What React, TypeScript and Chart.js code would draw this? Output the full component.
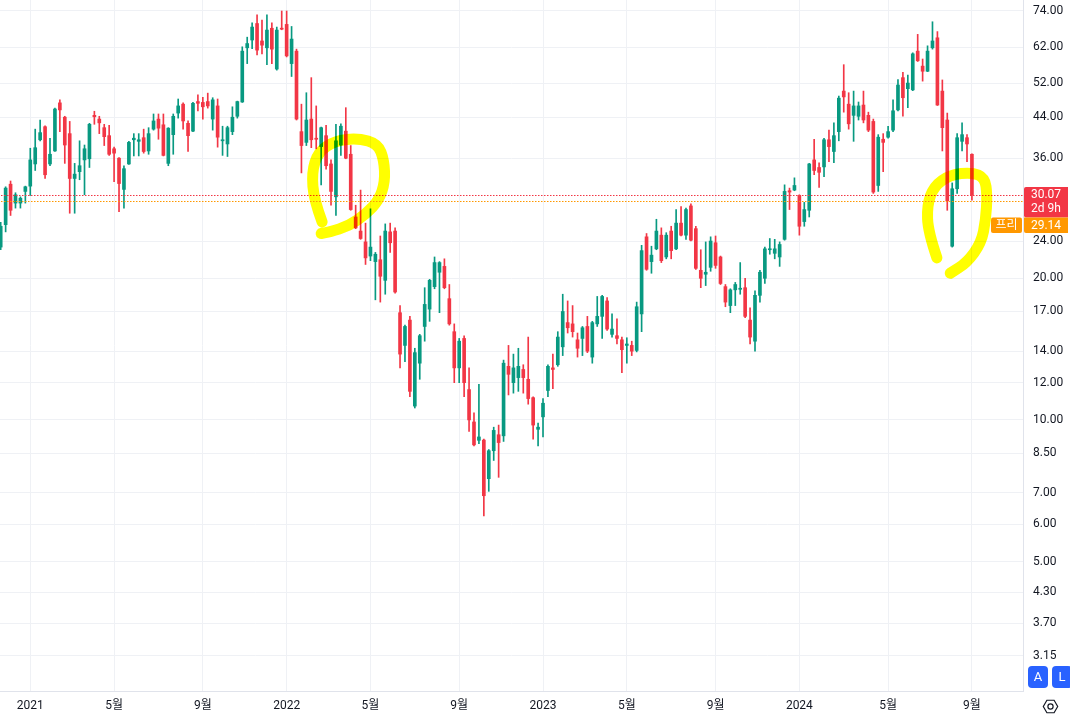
import React, { useEffect, useRef } from 'react';
import { Chart, registerables } from 'chart.js';

Chart.register(...registerables);

// Weekly candles, week of 2020-11-23 (index 0) through week of 2024-09-02 (index 197)
const opens = [
  23.3, 26.0, 31.7, 28.9, 28.9, 30.6, 31.4, 35.0, 39.4, 42.0, 35.0, 37.3, 47.2, 44.0, 40.6, 32.6, 33.7, 35.7, 35.9, 44.4,
  43.6, 41.8, 40.2, 37.7, 36.0, 30.9, 35.0, 39.4, 39.1, 39.8, 37.3, 41.5, 43.6, 42.4, 35.1, 40.4, 44.9, 46.9, 42.7, 41.1,
  47.5, 47.3, 47.5, 43.6, 46.5, 39.2, 38.6, 41.0, 44.2, 47.4, 61.8, 64.2, 69.6, 63.9, 61.8, 68.0, 55.7, 68.0, 69.3, 57.2,
  60.8, 41.0, 38.9, 43.6, 39.7, 38.1, 40.2, 35.0, 29.8, 38.4, 41.1, 36.7, 27.0, 25.2, 23.9, 22.3, 21.7, 21.9, 19.8, 25.1,
  25.2, 16.9, 14.4, 16.3, 10.7, 13.2, 15.8, 17.2, 19.2, 20.6, 21.2, 18.1, 15.4, 12.9, 14.9, 11.6, 9.9, 9.05, 9.06, 7.5,
  8.6, 9.3, 9.25, 13.0, 12.0, 12.3, 12.8, 12.2, 11.15, 9.55, 10.15, 11.55, 12.9, 13.1, 14.3, 16.1, 16.0, 14.8, 14.9, 15.8,
  13.6, 16.0, 16.6, 17.9, 15.2, 15.1, 14.8, 14.4, 14.4, 14.05, 16.8, 24.5, 21.7, 23.1, 24.7, 22.2, 25.2, 23.1, 26.2, 24.7,
  28.5, 25.5, 20.8, 20.4, 21.1, 23.8, 22.2, 19.2, 17.5, 18.9, 18.95, 19.1, 16.3, 14.7, 18.4, 20.0, 23.0, 22.6, 22.2, 24.2,
  30.7, 30.8, 30.0, 26.4, 27.9, 35.7, 34.4, 34.5, 39.4, 37.2, 41.0, 50.0, 46.9, 44.4, 44.2, 46.7, 44.4, 43.1, 31.5, 39.5,
  39.9, 41.3, 45.6, 53.4, 50.6, 50.3, 60.8, 56.5, 55.1, 61.8, 64.9, 50.0, 43.4, 23.4, 31.0, 39.1, 39.8, 36.7,
];
const highs = [
  26.3, 31.3, 32.2, 30.4, 29.8, 31.4, 37.8, 41.5, 43.4, 42.2, 39.7, 46.0, 47.9, 44.2, 43.1, 35.1, 39.2, 38.4, 42.7, 45.3,
  44.2, 42.5, 42.3, 38.0, 36.1, 34.7, 39.1, 40.6, 40.6, 41.5, 41.8, 44.7, 44.7, 44.7, 41.8, 44.7, 48.1, 47.2, 43.2, 47.3,
  49.1, 48.5, 49.5, 48.4, 48.1, 42.1, 42.1, 46.3, 47.6, 62.1, 65.1, 69.8, 72.6, 70.8, 72.6, 69.8, 68.4, 74.0, 74.0, 68.6,
  61.4, 46.9, 49.6, 53.4, 46.5, 41.9, 42.3, 35.7, 42.5, 42.6, 46.1, 38.3, 28.6, 30.8, 26.2, 28.1, 22.7, 24.6, 26.1, 26.2,
  25.6, 17.5, 15.9, 16.6, 14.2, 15.2, 19.1, 19.9, 22.2, 21.7, 22.0, 19.4, 16.0, 14.9, 15.1, 12.9, 10.35, 11.9, 9.1, 8.65,
  9.65, 9.75, 13.4, 14.4, 13.8, 14.2, 13.1, 15.0, 11.2, 9.85, 11.1, 13.1, 13.8, 15.4, 18.5, 17.9, 17.5, 15.3, 15.8, 16.6,
  16.2, 18.3, 18.4, 18.2, 16.8, 16.4, 15.0, 14.95, 14.7, 17.8, 23.5, 24.9, 23.4, 26.7, 25.6, 25.0, 25.8, 28.0, 28.4, 28.2,
  28.8, 25.8, 23.0, 23.9, 24.5, 24.6, 22.3, 19.4, 19.0, 19.6, 21.6, 20.0, 17.3, 18.8, 20.8, 23.3, 24.3, 24.2, 23.9, 31.6,
  31.1, 32.7, 30.1, 29.0, 35.1, 39.5, 35.2, 39.7, 41.3, 42.8, 48.8, 56.9, 49.6, 50.0, 47.4, 50.0, 45.1, 43.6, 40.4, 40.6,
  42.1, 47.9, 52.9, 54.8, 54.1, 60.3, 66.0, 58.5, 62.4, 70.2, 66.9, 52.8, 44.9, 31.9, 40.6, 42.8, 40.4, 36.8,
];
const lows = [
  23.0, 25.1, 27.2, 28.2, 28.2, 28.9, 30.0, 33.9, 39.2, 32.6, 34.7, 37.2, 41.0, 35.1, 27.5, 27.5, 32.4, 30.1, 34.4, 42.5,
  40.6, 38.3, 36.5, 32.1, 27.7, 28.2, 34.9, 36.4, 36.4, 36.9, 36.7, 41.3, 39.5, 36.4, 34.7, 36.7, 43.8, 41.5, 37.2, 41.0,
  45.4, 43.6, 46.0, 41.3, 38.0, 36.5, 36.3, 40.4, 43.8, 47.3, 57.2, 61.5, 59.7, 60.0, 56.9, 57.2, 55.4, 67.5, 59.1, 53.7,
  43.4, 33.5, 38.3, 37.9, 37.7, 31.6, 34.1, 28.6, 27.2, 36.5, 35.9, 27.9, 25.5, 24.2, 21.4, 21.8, 18.0, 17.8, 18.5, 22.7,
  18.6, 12.9, 13.3, 11.2, 10.6, 12.2, 14.7, 16.2, 19.0, 16.9, 19.0, 15.9, 12.0, 12.0, 11.2, 9.45, 8.8, 8.9, 6.25, 7.05,
  8.2, 7.55, 9.0, 11.3, 11.4, 11.5, 11.4, 10.8, 9.1, 8.8, 9.2, 11.2, 11.65, 13.0, 13.7, 15.3, 15.0, 13.6, 13.7, 13.9,
  13.2, 15.8, 14.9, 15.5, 15.0, 14.5, 12.6, 13.2, 13.7, 13.95, 15.4, 20.8, 20.5, 23.0, 21.6, 22.0, 22.0, 23.0, 24.6, 24.2,
  24.0, 20.9, 19.1, 19.3, 20.7, 21.0, 19.4, 17.4, 16.9, 17.5, 18.5, 16.5, 14.5, 14.0, 17.8, 19.5, 22.5, 22.0, 21.2, 24.1,
  28.0, 30.7, 24.7, 25.8, 27.0, 33.2, 31.2, 32.9, 35.4, 35.2, 39.2, 45.1, 41.5, 39.1, 43.4, 42.8, 41.0, 30.3, 30.6, 33.7,
  39.7, 41.0, 45.4, 44.2, 46.1, 50.1, 57.8, 52.5, 55.0, 61.4, 46.6, 37.3, 27.9, 23.3, 30.3, 37.3, 35.4, 29.3,
];
const closes = [
  25.8, 31.1, 27.9, 30.1, 29.6, 31.3, 35.7, 37.9, 40.8, 33.2, 36.7, 45.8, 45.6, 38.4, 32.6, 33.3, 34.7, 37.7, 42.5, 44.1,
  42.8, 40.0, 36.7, 36.9, 31.8, 34.2, 38.9, 39.7, 39.4, 37.2, 40.6, 43.2, 41.7, 36.5, 41.7, 44.2, 46.5, 43.2, 40.2, 47.1,
  47.1, 46.3, 46.5, 47.9, 39.9, 39.4, 41.8, 44.0, 47.5, 60.8, 63.1, 68.4, 61.1, 62.6, 67.4, 61.4, 67.4, 67.7, 59.4, 64.5,
  43.6, 38.3, 43.4, 39.4, 39.5, 41.8, 34.7, 30.6, 39.2, 42.1, 36.0, 28.0, 25.6, 24.3, 22.1, 23.3, 22.5, 20.2, 25.2, 23.8,
  18.7, 13.8, 15.8, 11.5, 13.9, 15.1, 17.6, 19.8, 21.6, 21.6, 19.1, 16.0, 12.9, 14.7, 12.0, 10.0, 8.85, 9.2, 6.9, 8.6,
  9.5, 8.95, 13.2, 12.5, 12.9, 13.0, 12.3, 11.1, 9.75, 9.65, 10.85, 13.0, 12.8, 15.0, 17.0, 15.7, 15.4, 14.2, 15.7, 14.0,
  16.1, 16.6, 18.3, 15.6, 15.6, 14.9, 14.1, 14.5, 14.0, 17.4, 22.9, 20.9, 22.4, 25.2, 21.8, 24.7, 22.9, 26.2, 24.7, 28.0,
  24.1, 21.0, 20.0, 20.6, 24.0, 21.3, 19.5, 17.8, 18.9, 19.4, 19.05, 16.6, 15.0, 18.4, 20.6, 23.1, 23.1, 23.1, 23.6, 30.6,
  30.5, 31.5, 25.8, 28.0, 35.0, 33.9, 33.6, 39.4, 38.1, 40.2, 48.3, 48.6, 42.6, 46.5, 46.5, 43.4, 41.3, 30.5, 39.9, 38.9,
  41.0, 45.4, 51.5, 48.4, 52.0, 60.0, 58.0, 55.1, 60.8, 63.9, 46.7, 41.8, 29.2, 31.0, 39.8, 40.4, 38.6, 30.07,
];

// X-axis tick labels at the first weekly bar of each labelled month
const xTickIndex = [6, 23, 41, 58, 75, 93, 110, 127, 145, 162, 180, 197];
const xTickLabels = ['2021', '5월', '9월', '2022', '5월', '9월', '2023', '5월', '9월', '2024', '5월', '9월'];

// Right price axis ticks
const yTicks = [74, 62, 52, 44, 36, 24, 20, 17, 14, 12, 10, 8.5, 7, 6, 5, 4.3, 3.7, 3.15];

const lastPrice = 30.07;
const lastCountdown = '2d 9h';
const prePrice = 29.14;
const preLabel = '프리';

// Hand-drawn yellow highlight strokes, as [bar index, price]
const circleA = [
  [65.2, 26.35], [63.55, 29.3], [63.1, 33.6], [64.4, 37.1], [67.8, 39.2], [72.5, 39.7], [76.5, 38.6],
  [77.75, 35.7], [77.95, 32.0], [76.7, 29.3], [74.1, 27.4], [70.5, 25.8], [66.8, 25.1], [65.0, 24.9],
];
const circleB = [
  [189.9, 22.1], [188.1, 25.1], [187.9, 28.6], [189.3, 31.4], [192.6, 33.2], [197.0, 33.6], [199.6, 32.7],
  [200.1, 30.1], [199.8, 26.6], [198.9, 23.8], [196.0, 21.6], [192.6, 20.5],
];

const UP = '#089981';
const DOWN = '#f23645';
const ORANGE = '#ff9800';
const TEXT = '#131722';
const GRID = '#eff1f5';
const BORDER = '#e0e3eb';
const FONT = "Roboto, 'Noto Sans CJK KR', 'Noto Sans', sans-serif";

export default function App() {
  const ref = useRef<HTMLCanvasElement>(null);

  useEffect(() => {
    document.body.style.margin = '0';
    const canvas = ref.current;
    if (!canvas) return;
    const colors = opens.map((o, i) => (closes[i] >= o ? UP : DOWN));

    const overlay = {
      id: 'overlay',
      afterDatasetsDraw(chart: any) {
        const { ctx, chartArea, scales } = chart;
        const x = scales.x;
        const y = scales.y;
        ctx.save();
        ctx.globalCompositeOperation = 'source-over';
        ctx.globalAlpha = 1;
        const dotted = (v: number, color: string) => {
          const py = Math.round(y.getPixelForValue(v));
          ctx.fillStyle = color;
          for (let px = Math.ceil(chartArea.left) + 1; px < chartArea.right - 1; px += 3) {
            ctx.fillRect(px, py, 1.5, 1);
          }
        };
        dotted(lastPrice, DOWN);
        dotted(prePrice, ORANGE);

        ctx.beginPath();
        ctx.rect(chartArea.left, chartArea.top, chartArea.right - chartArea.left, chartArea.bottom - chartArea.top);
        ctx.clip();
        ctx.globalCompositeOperation = 'multiply';
        ctx.strokeStyle = '#ffff00';
        ctx.lineWidth = 11;
        ctx.lineCap = 'round';
        ctx.lineJoin = 'round';
        for (const path of [circleA, circleB]) {
          const pts = path.map(([i, p]) => [x.getPixelForValue(i), y.getPixelForValue(p)]);
          ctx.beginPath();
          ctx.moveTo(pts[0][0], pts[0][1]);
          for (let k = 1; k < pts.length - 1; k++) {
            const mx = (pts[k][0] + pts[k + 1][0]) / 2;
            const my = (pts[k][1] + pts[k + 1][1]) / 2;
            ctx.quadraticCurveTo(pts[k][0], pts[k][1], mx, my);
          }
          const last = pts[pts.length - 1];
          ctx.lineTo(last[0], last[1]);
          ctx.stroke();
        }
        ctx.restore();
      },
      afterDraw(chart: any) {
        const { ctx, chartArea, scales } = chart;
        const y = scales.y;
        const W = chart.width;
        const H = chart.height;
        ctx.save();
        ctx.textAlign = 'center';
        ctx.textBaseline = 'middle';
        ctx.font = `12px ${FONT}`;

        const bx = chartArea.right + 1;
        const bw = W - 2 - bx;
        const py = y.getPixelForValue(lastPrice);
        const top = py - 8;
        ctx.fillStyle = DOWN;
        ctx.beginPath();
        ctx.roundRect(bx, top, bw, 30.5, [2, 0, 0, 2]);
        ctx.fill();
        ctx.fillStyle = '#ffffff';
        ctx.fillText(lastPrice.toFixed(2), bx + bw / 2, py + 0.5);
        ctx.fillText(lastCountdown, bx + bw / 2, py + 14.5);

        const top2 = top + 30.5;
        ctx.fillStyle = ORANGE;
        ctx.beginPath();
        ctx.roundRect(bx, top2, bw, 15.6, [0, 0, 0, 2]);
        ctx.fill();
        ctx.beginPath();
        ctx.roundRect(bx - 33, top2, 31, 15.6, 2);
        ctx.fill();
        ctx.fillStyle = '#ffffff';
        ctx.fillText(prePrice.toFixed(2), bx + bw / 2, top2 + 8.3);
        ctx.fillText(preLabel, bx - 17.5, top2 + 8.3);

        // A / L buttons
        ctx.fillStyle = '#2962ff';
        ctx.beginPath();
        ctx.roundRect(W - 42, H - 52, 20, 22, 4);
        ctx.fill();
        ctx.beginPath();
        ctx.roundRect(W - 18, H - 52, 20, 22, 4);
        ctx.fill();
        ctx.fillStyle = '#ffffff';
        ctx.font = `13px ${FONT}`;
        ctx.fillText('A', W - 32, H - 40.5);
        ctx.fillText('L', W - 8, H - 40.5);

        // settings icon
        const gx = W - 19.5;
        const gy = H - 11.5;
        ctx.strokeStyle = TEXT;
        ctx.lineWidth = 1.2;
        ctx.beginPath();
        for (let k = 0; k < 6; k++) {
          const a = (Math.PI / 3) * k;
          const px = gx + 7.2 * Math.cos(a);
          const pyy = gy + 7.2 * Math.sin(a);
          if (k === 0) ctx.moveTo(px, pyy);
          else ctx.lineTo(px, pyy);
        }
        ctx.closePath();
        ctx.stroke();
        ctx.beginPath();
        ctx.arc(gx, gy, 2.6, 0, Math.PI * 2);
        ctx.stroke();
        ctx.restore();
      },
    };

    const chart = new Chart(canvas, {
      type: 'bar',
      data: {
        datasets: [
          {
            label: 'body',
            data: opens.map((o, i) => ({ x: i, y: [o, closes[i]] })) as any,
            backgroundColor: colors,
            barThickness: 3,
            grouped: false,
            borderWidth: 0,
            minBarLength: 1,
          } as any,
          {
            label: 'wick',
            data: highs.map((h, i) => ({ x: i, y: [lows[i], h] })) as any,
            backgroundColor: colors,
            barThickness: 1,
            grouped: false,
            borderWidth: 0,
          } as any,
        ],
      },
      options: {
        responsive: false,
        devicePixelRatio: 1,
        animation: false,
        events: [],
        layout: { padding: 0 },
        plugins: { legend: { display: false }, tooltip: { enabled: false } },
        scales: {
          x: {
            type: 'linear',
            position: 'bottom',
            offset: false,
            min: -0.142,
            max: 207.36,
            grid: { color: GRID, drawTicks: false, offset: false },
            border: { display: true, color: BORDER },
            afterBuildTicks: (scale: any) => {
              scale.ticks = xTickIndex.map((v) => ({ value: v }));
            },
            afterFit: (scale: any) => {
              scale.height = 27;
              scale.paddingLeft = 0;
              scale.paddingRight = 0;
            },
            ticks: {
              autoSkip: false,
              maxRotation: 0,
              padding: 8,
              color: TEXT,
              font: { size: 12, family: FONT },
              callback: (v: any) => {
                const k = xTickIndex.indexOf(Number(v));
                return k >= 0 ? xTickLabels[k] : '';
              },
            },
          },
          y: {
            type: 'logarithmic',
            position: 'right',
            min: 2.653,
            max: 78.09,
            grid: { color: GRID, drawTicks: false },
            border: { display: true, color: BORDER },
            afterBuildTicks: (scale: any) => {
              scale.ticks = yTicks.map((v) => ({ value: v }));
            },
            afterFit: (scale: any) => {
              scale.width = 47;
              scale.paddingTop = 0;
              scale.paddingBottom = 0;
            },
            ticks: {
              autoSkip: false,
              padding: 10,
              color: TEXT,
              font: { size: 12, family: FONT },
              callback: (v: any) => Number(v).toFixed(2),
            },
          },
        },
      } as any,
      plugins: [overlay],
    });

    return () => chart.destroy();
  }, []);

  return (
    <div style={{ width: 1070, height: 718, background: '#ffffff' }}>
      <canvas ref={ref} width={1070} height={718} style={{ display: 'block', width: 1070, height: 718 }} />
    </div>
  );
}
